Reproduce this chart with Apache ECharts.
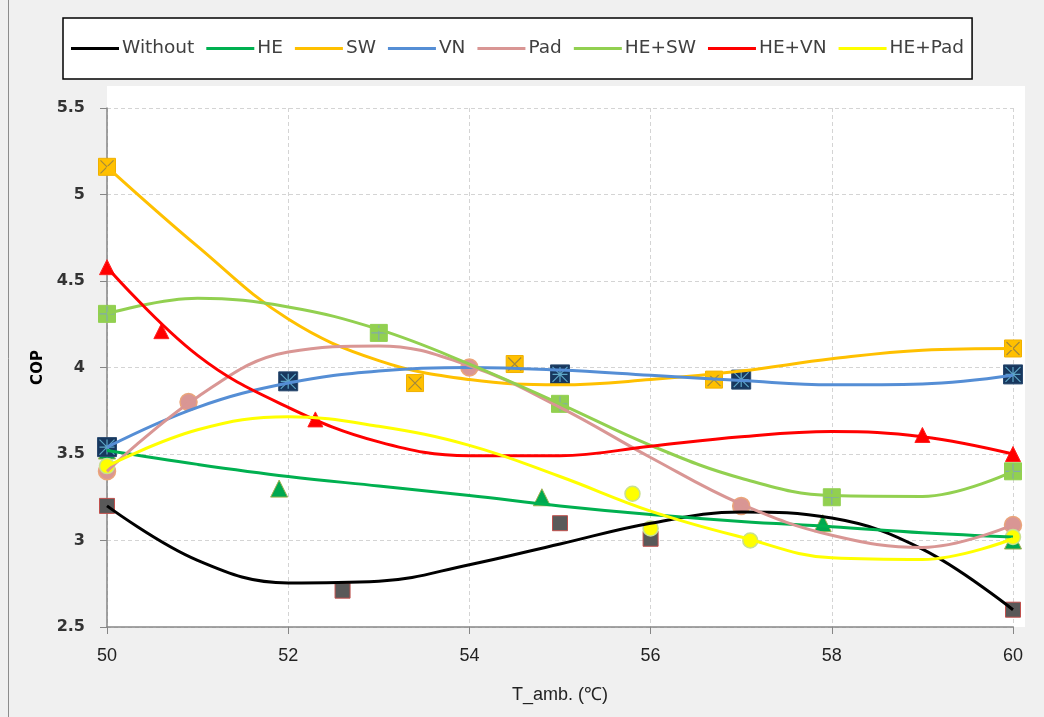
<!DOCTYPE html>
<html>
<head>
<meta charset="utf-8">
<script src="https://cdn.jsdelivr.net/npm/echarts@6/dist/echarts.min.js"></script>
<style>
html,body{margin:0;padding:0;background:#f0f0f0;}
#chart{width:1044px;height:717px;}
</style>
</head>
<body>
<div id="chart"></div>
<script>
// ---- data ----
const seriesNames = ['Without','HE','SW','VN','Pad','HE+SW','HE+VN','HE+Pad'];

// measured points (markers)
const withoutX = [50, 52.6, 55, 56, 60];      const withoutY = [3.2, 2.71, 3.1, 3.01, 2.6];
const heX = [50, 51.9, 54.8, 57.9, 60];       const heY = [3.52, 3.3, 3.25, 3.1, 3.0];
const swX = [50, 53.4, 54.5, 56.7, 60];       const swY = [5.16, 3.91, 4.02, 3.93, 4.11];
const vnX = [50, 52, 55, 57, 60];             const vnY = [3.54, 3.92, 3.96, 3.93, 3.96];
const padX = [50, 50.9, 54, 57, 60];          const padY = [3.4, 3.8, 4.0, 3.2, 3.09];
const heswX = [50, 53, 55, 58, 60];           const heswY = [4.31, 4.2, 3.79, 3.25, 3.4];
const hevnX = [50, 50.6, 52.3, 59, 60];       const hevnY = [4.58, 4.21, 3.7, 3.61, 3.5];
const hepadX = [50, 55.8, 56, 57.1, 60];      const hepadY = [3.43, 3.27, 3.07, 3.0, 3.02];

// trendline values at each degree
const trendX = [50, 51, 52, 53, 54, 55, 56, 57, 58, 59, 60];
const withoutFit = [3.2, 2.885, 2.755, 2.765, 2.86, 2.98, 3.10, 3.165, 3.13, 2.95, 2.6];
const heFit      = [3.52, 3.44, 3.37, 3.315, 3.26, 3.20, 3.15, 3.11, 3.08, 3.045, 3.02];
const swFit      = [5.16, 4.70, 4.28, 4.04, 3.93, 3.90, 3.93, 3.98, 4.05, 4.10, 4.11];
const vnFit      = [3.54, 3.77, 3.91, 3.98, 4.0, 3.985, 3.955, 3.925, 3.90, 3.905, 3.955];
const padFit     = [3.40, 3.83, 4.09, 4.125, 4.01, 3.77, 3.48, 3.21, 3.03, 2.96, 3.09];
const heswFit    = [4.31, 4.40, 4.35, 4.22, 4.02, 3.79, 3.55, 3.36, 3.26, 3.255, 3.40];
const hevnFit    = [4.58, 4.07, 3.77, 3.57, 3.49, 3.49, 3.545, 3.60, 3.63, 3.60, 3.50];
const hepadFit   = [3.43, 3.64, 3.715, 3.66, 3.55, 3.37, 3.17, 3.02, 2.90, 2.89, 3.01];

// ---- styling ----
const lineColors = ['#000000','#00b050','#ffc000','#558ed5','#d99694','#92d050','#ff0000','#ffff00'];
const pts = [[withoutX,withoutY],[heX,heY],[swX,swY],[vnX,vnY],[padX,padY],[heswX,heswY],[hevnX,hevnY],[hepadX,hepadY]];
const fits = [withoutFit,heFit,swFit,vnFit,padFit,heswFit,hevnFit,hepadFit];
const markerStyles = [
  {symbol:'rect', size:15, color:'#595959', border:'#c0504d', bw:1},
  {symbol:'triangle', size:17, color:'#00a84f', border:'#a0b050', bw:1},
  {symbol:'rect', size:17, color:'#ffc000', border:'#f0b000', bw:1},
  {symbol:'rect', size:19, color:'#17375e', border:'#2a4a70', bw:1},
  {symbol:'circle', size:17, color:'#d99694', border:'#eba57a', bw:1.5},
  {symbol:'rect', size:17, color:'#92d050', border:'#92d050', bw:1},
  {symbol:'triangle', size:15, color:'#ff0000', border:'#ff2020', bw:1},
  {symbol:'circle', size:15, color:'#ffff00', border:'#c8e090', bw:1.5}
];
const overlays = {
  2: {path:'path://M0,0L10,10M10,0L0,10', size:13, color:'#8c7a4a'},
  3: {path:'path://M0,0L10,10M10,0L0,10M5,0L5,10M0,5L10,5', size:15, color:'#6fc0e0'},
  5: {path:'path://M5,0L5,10M0,5L10,5', size:15, color:'#7fa0c0'}
};

const series = [];
seriesNames.forEach((n, i) => {
  const ms = markerStyles[i];
  const data = pts[i][0].map((x, k) => [x, pts[i][1][k]]);
  series.push({
    name: n + ' data', type: 'scatter', data: data, z: 2,
    symbol: ms.symbol, symbolSize: ms.size,
    itemStyle: {color: ms.color, borderColor: ms.border, borderWidth: ms.bw, opacity: 1},
    emphasis: {disabled: true}, silent: true
  });
  if (overlays[i]) {
    const o = overlays[i];
    series.push({
      name: n + ' mark', type: 'scatter', data: data, z: 3,
      symbol: o.path, symbolSize: o.size,
      itemStyle: {color: 'rgba(0,0,0,0)', borderColor: o.color, borderWidth: 1.2},
      emphasis: {disabled: true}, silent: true
    });
  }
});
seriesNames.forEach((n, i) => {
  series.push({
    name: n, type: 'line', z: 5,
    data: trendX.map((x, k) => [x, fits[i][k]]),
    smooth: 0.4, showSymbol: false, symbol: 'none',
    lineStyle: {color: lineColors[i], width: 3},
    itemStyle: {color: lineColors[i]},
    emphasis: {disabled: true}
  });
});

const chart = echarts.init(document.getElementById('chart'), null, {renderer: 'canvas'});
chart.setOption({
  animation: false,
  backgroundColor: '#f0f0f0',
  graphic: [
    {type: 'rect', z: -10, shape: {x: 107, y: 86, width: 918, height: 541}, style: {fill: '#ffffff'}},
    {type: 'line', z: -10, shape: {x1: 8.5, y1: 0, x2: 8.5, y2: 717}, style: {stroke: '#8c8c8c', lineWidth: 1}}
  ],
  legend: {
    data: seriesNames,
    top: 18, left: 63,
    icon: 'rect', itemWidth: 48, itemHeight: 3, itemGap: 12,
    padding: [21, 8],
    backgroundColor: '#ffffff', borderColor: '#000000', borderWidth: 1.5,
    textStyle: {fontFamily: 'DejaVu Sans', fontSize: 18.5, color: '#404040', padding: [0,0,0,-2]},
    selectedMode: false
  },
  grid: {left: 107, right: 31, top: 108, bottom: 90, containLabel: false},
  xAxis: {
    type: 'value', min: 50, max: 60, interval: 2,
    name: 'T_amb. (℃)', nameLocation: 'middle', nameGap: 59,
    nameTextStyle: {fontFamily: 'Liberation Sans', fontSize: 18, color: '#222'},
    axisLine: {show: true, lineStyle: {color: '#868686', width: 1.5}},
    axisTick: {show: true, length: 7, lineStyle: {color: '#868686'}},
    axisLabel: {margin: 20, fontFamily: 'Liberation Sans', fontSize: 18, color: '#222'},
    splitLine: {show: true, lineStyle: {color: '#d4d4d4', type: [4, 3]}}
  },
  yAxis: {
    type: 'value', min: 2.5, max: 5.5, interval: 0.5,
    name: 'COP', nameLocation: 'middle', nameGap: 59, nameRotate: 90,
    nameTextStyle: {fontFamily: 'DejaVu Sans', fontSize: 15, fontWeight: 'bold', color: '#000'},
    axisLine: {show: true, lineStyle: {color: '#868686', width: 1.5}},
    axisTick: {show: true, length: 7, lineStyle: {color: '#868686'}},
    axisLabel: {margin: 22, fontFamily: 'DejaVu Sans', fontSize: 16, fontWeight: 'bold', color: '#333'},
    splitLine: {show: true, lineStyle: {color: '#d4d4d4', type: [4, 3]}}
  },
  series: series
});
</script>
</body>
</html>
